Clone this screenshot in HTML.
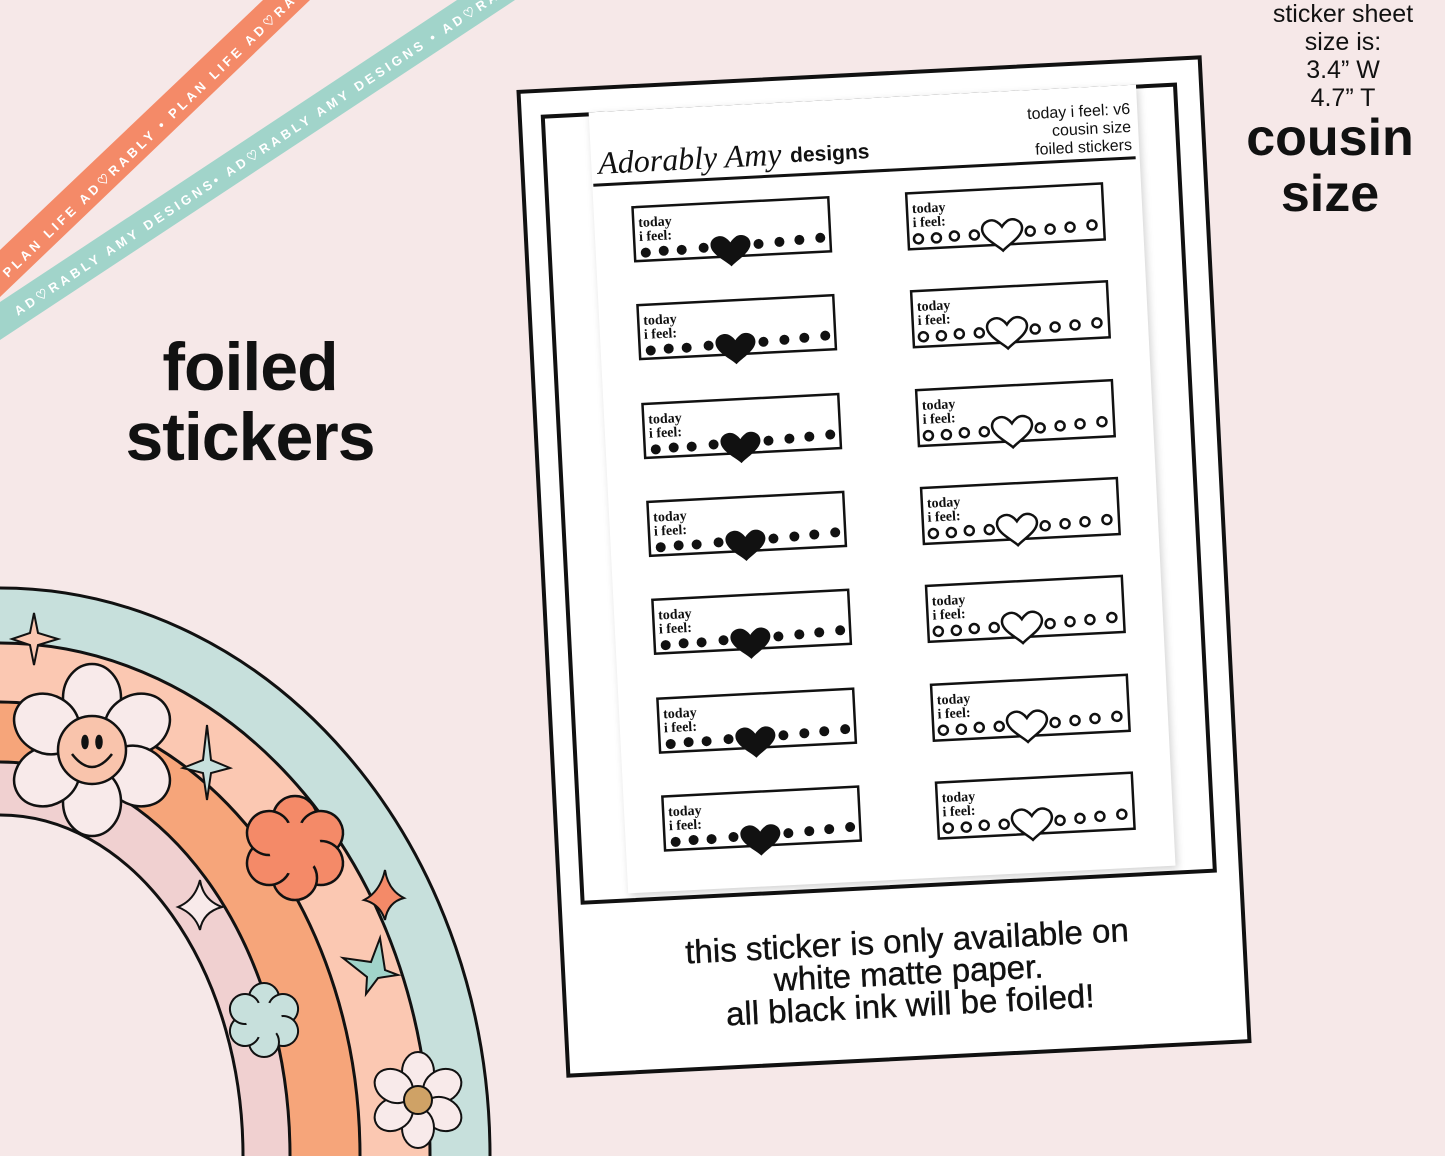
<!DOCTYPE html>
<html><head><meta charset="utf-8"><style>
html,body{margin:0;padding:0;overflow:hidden}
body{width:1445px;height:1156px;position:relative;overflow:hidden;background:#f6e8e8;font-family:"Liberation Sans",sans-serif}
.abs{position:absolute}
</style></head><body>

<!-- ribbons -->
<svg class="abs" style="left:0;top:0" width="560" height="360">
<polygon points="0,250 263,0 310,0 0,297" fill="#f48a68"/>
<polygon points="0,302 457,0 515,0 0,340" fill="#a1d4ca"/>
<text x="0" y="0" fill="#fff" font-size="13" font-weight="bold" letter-spacing="3.5" font-family="Liberation Sans" transform="translate(8,278) rotate(-43.8)">PLAN LIFE AD♡RABLY • PLAN LIFE AD♡RABLY • PLAN LIFE</text>
<text x="0" y="0" fill="#fff" font-size="13" font-weight="bold" letter-spacing="3.5" font-family="Liberation Sans" transform="translate(18,316) rotate(-33.4)">AD♡RABLY AMY DESIGNS• AD♡RABLY AMY DESIGNS • AD♡RABLY</text>
</svg>

<div class="abs" style="left:100px;top:332px;width:300px;text-align:center;font-size:68px;font-weight:bold;line-height:70px;color:#111;letter-spacing:-1px">foiled<br>stickers</div>

<div class="abs" style="left:1245px;top:0px;width:196px;text-align:center;font-size:25px;line-height:28px;color:#111">sticker sheet<br>size is:<br>3.4” W<br>4.7” T</div>
<div class="abs" style="left:1230px;top:110px;width:200px;text-align:center;font-size:52px;font-weight:bold;line-height:56px;color:#111">cousin<br>size</div>

<!-- rainbow -->
<svg class="abs" style="left:0;top:580px" width="500" height="576" viewBox="0 580 500 576">
<g stroke="#111" stroke-width="3">
<ellipse cx="0" cy="1156" rx="490" ry="568" fill="#c7e0dc"/>
<ellipse cx="0" cy="1156" rx="430" ry="513" fill="#fbc8b2"/>
<ellipse cx="0" cy="1156" rx="360" ry="454" fill="#f6a57a"/>
<ellipse cx="0" cy="1156" rx="290" ry="394" fill="#f0d0d0"/>
<ellipse cx="0" cy="1156" rx="243" ry="341" fill="#f6e8e8"/>
</g>
<g transform="translate(92,750)" stroke="#111" stroke-width="2.5" fill="#f8eaea">
<ellipse cx="0" cy="-52" rx="29" ry="34"/>
<ellipse cx="0" cy="-52" rx="29" ry="34" transform="rotate(60)"/>
<ellipse cx="0" cy="-52" rx="29" ry="34" transform="rotate(120)"/>
<ellipse cx="0" cy="-52" rx="29" ry="34" transform="rotate(180)"/>
<ellipse cx="0" cy="-52" rx="29" ry="34" transform="rotate(240)"/>
<ellipse cx="0" cy="-52" rx="29" ry="34" transform="rotate(300)"/>
<circle r="34" fill="#f9c4ac"/>
<ellipse cx="-7" cy="-8" rx="2.5" ry="6" fill="#111"/>
<ellipse cx="7" cy="-8" rx="2.5" ry="6" fill="#111"/>
<path d="M-20,4 Q0,30 20,4" fill="none"/>
</g>
<g transform="translate(295,848)" stroke="#111" stroke-width="2.5" fill="#f48a68">
<circle cx="0" cy="-30" r="22"/><circle cx="0" cy="-30" r="22" transform="rotate(60)"/><circle cx="0" cy="-30" r="22" transform="rotate(120)"/><circle cx="0" cy="-30" r="22" transform="rotate(180)"/><circle cx="0" cy="-30" r="22" transform="rotate(240)"/><circle cx="0" cy="-30" r="22" transform="rotate(300)"/>
<circle r="26" stroke="none"/>
</g>
<g transform="translate(264,1020)" stroke="#111" stroke-width="2" fill="#c7e0dc">
<circle cx="0" cy="-22" r="15"/><circle cx="0" cy="-22" r="15" transform="rotate(60)"/><circle cx="0" cy="-22" r="15" transform="rotate(120)"/><circle cx="0" cy="-22" r="15" transform="rotate(180)"/><circle cx="0" cy="-22" r="15" transform="rotate(240)"/><circle cx="0" cy="-22" r="15" transform="rotate(300)"/>
<circle r="18" stroke="none"/>
</g>
<g transform="translate(418,1100)" stroke="#111" stroke-width="2" fill="#f8eaea">
<ellipse cx="0" cy="-28" rx="16" ry="20"/><ellipse cx="0" cy="-28" rx="16" ry="20" transform="rotate(60)"/><ellipse cx="0" cy="-28" rx="16" ry="20" transform="rotate(120)"/><ellipse cx="0" cy="-28" rx="16" ry="20" transform="rotate(180)"/><ellipse cx="0" cy="-28" rx="16" ry="20" transform="rotate(240)"/><ellipse cx="0" cy="-28" rx="16" ry="20" transform="rotate(300)"/>
<circle r="14" fill="#cfa266"/>
</g>
<path d="M34,613 L38,633 L58,639 L38,645 L34,665 L30,645 L12,639 L30,633Z" fill="#fbc8b2" stroke="#111" stroke-width="2"/>
<path d="M207,725 L211,760 L230,768 L211,773 L207,800 L203,773 L183,768 L203,760Z" fill="#c7e0dc" stroke="#111" stroke-width="2"/>
<path d="M385,870 Q388,890 404,898 Q388,902 385,920 Q380,904 364,900 Q380,892 385,870Z" fill="#f48a68" stroke="#111" stroke-width="2"/>
<path d="M200,880 Q203,900 222,907 Q203,912 200,930 Q195,914 178,907 Q195,900 200,880Z" fill="#f8eaea" stroke="#111" stroke-width="2"/>
<path d="M380,938 L385,970 L398,975 L378,978 L366,994 L367,977 L343,958 L371,962Z" fill="#a1d4ca" stroke="#111" stroke-width="2"/>
</svg>

<!-- sheet -->
<div class="abs" style="left:541px;top:72px;width:686px;height:989px;transform:rotate(-2.9deg);background:#fff;box-sizing:border-box;border:4px solid #111">
 <div class="abs" style="left:19px;top:22px;width:637px;height:791px;border:4px solid #111;box-sizing:border-box;background:#fff"></div>
 <div class="abs" style="left:67px;top:22px;width:548px;height:782px;background:#fff;box-shadow:2px 3px 8px rgba(0,0,0,0.18)"></div>
 <svg class="abs" style="left:-4px;top:-4px" width="686" height="989">
  <text x="78" y="88" font-family="Liberation Serif,serif" font-style="italic" font-size="32" fill="#111">Adorably Amy</text>
  <text x="270" y="86" font-family="Liberation Sans" font-weight="bold" font-size="21" fill="#111">designs</text>
  <text x="612" y="55" text-anchor="end" font-family="Liberation Sans" font-size="16" fill="#111">today i feel: v6</text>
  <text x="612" y="73" text-anchor="end" font-family="Liberation Sans" font-size="16" fill="#111">cousin size</text>
  <text x="612" y="91" text-anchor="end" font-family="Liberation Sans" font-size="16" fill="#111">foiled stickers</text>
  <line x1="72" y1="99" x2="615" y2="99" stroke="#111" stroke-width="3"/>
  <defs>
   <g id="sf">
    <rect x="0" y="0" width="196" height="54" fill="#fff" stroke="#111" stroke-width="2.5"/>
    <text x="5" y="20" font-family="Liberation Serif,serif" font-weight="bold" font-size="14" fill="#111">today</text>
    <text x="5" y="34" font-family="Liberation Serif,serif" font-weight="bold" font-size="14" fill="#111">i feel:</text>
    <g fill="#111"><circle cx="11" cy="46" r="5"/><circle cx="29" cy="45" r="5"/><circle cx="47" cy="45" r="5"/><circle cx="69" cy="44" r="5"/><circle cx="124" cy="43" r="5"/><circle cx="145" cy="42" r="5"/><circle cx="165" cy="41" r="5"/><circle cx="186" cy="40" r="5"/></g>
    <path transform="translate(96,48)" d="M0,16 C-6,10 -20,3 -20,-6 C-20,-14 -10,-17 -5,-13 C-2,-11 0,-8 0,-8 C0,-8 2,-11 5,-13 C10,-17 20,-14 20,-6 C20,3 6,10 0,16Z" fill="#111"/>
   </g>
   <g id="so">
    <rect x="0" y="0" width="196" height="56" fill="#fff" stroke="#111" stroke-width="2.5"/>
    <text x="5" y="20" font-family="Liberation Serif,serif" font-weight="bold" font-size="14" fill="#111">today</text>
    <text x="5" y="34" font-family="Liberation Serif,serif" font-weight="bold" font-size="14" fill="#111">i feel:</text>
    <g fill="none" stroke="#111" stroke-width="2.5"><circle cx="10" cy="46" r="4.5"/><circle cx="28" cy="46" r="4.5"/><circle cx="46" cy="45" r="4.5"/><circle cx="66" cy="45" r="4.5"/><circle cx="122" cy="44" r="4.5"/><circle cx="142" cy="43" r="4.5"/><circle cx="162" cy="42" r="4.5"/><circle cx="184" cy="41" r="4.5"/></g>
    <path transform="translate(94,46)" d="M0,16 C-6,10 -20,3 -20,-6 C-20,-14 -10,-17 -5,-13 C-2,-11 0,-8 0,-8 C0,-8 2,-11 5,-13 C10,-17 20,-14 20,-6 C20,3 6,10 0,16Z" fill="#fff" stroke="#111" stroke-width="2.5"/>
   </g>
  </defs>
  <use href="#sf" x="110" y="123"/><use href="#so" x="384" y="123"/>
  <use href="#sf" x="110" y="221"/><use href="#so" x="384" y="221"/>
  <use href="#sf" x="110" y="320"/><use href="#so" x="384" y="320"/>
  <use href="#sf" x="110" y="418"/><use href="#so" x="384" y="418"/>
  <use href="#sf" x="110" y="516"/><use href="#so" x="384" y="516"/>
  <use href="#sf" x="110" y="615"/><use href="#so" x="384" y="615"/>
  <use href="#sf" x="110" y="713"/><use href="#so" x="384" y="713"/>
 </svg>
 <div class="abs" style="left:0;top:850px;width:686px;text-align:center;font-size:33px;line-height:32px;color:#111;-webkit-text-stroke:0.4px #111">this sticker is only available on<br>white matte paper.<br>all black ink will be foiled!</div>
</div>
</body></html>
